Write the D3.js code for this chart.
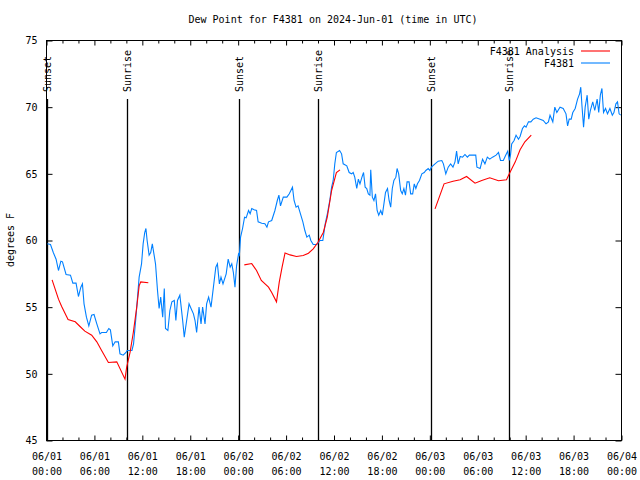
<!DOCTYPE html>
<html>
<head>
<meta charset="utf-8">
<script src="https://cdn.jsdelivr.net/npm/d3@7"></script>
<style>
  html, body { margin: 0; padding: 0; background: #fff; }
  svg text { font-family: "DejaVu Sans Mono", monospace; font-size: 10px; fill: #000; }
</style>
</head>
<body>
<svg id="chart" width="640" height="480"></svg>
<script>
// ---- data (hours since 06/01 00:00 UTC) ----
const titleText = "Dew Point for F4381 on 2024-Jun-01 (time in UTC)";
const yLabel = "degrees F";
const yTicks = [45, 50, 55, 60, 65, 70, 75];
const xMajorHours = [0, 6, 12, 18, 24, 30, 36, 42, 48, 54, 60, 66, 72];
const xTickDays = ["06/01","06/01","06/01","06/01","06/02","06/02","06/02","06/02","06/03","06/03","06/03","06/03","06/04"];
const xTickTimes = ["00:00","06:00","12:00","18:00","00:00","06:00","12:00","18:00","00:00","06:00","12:00","18:00","00:00"];
const xMinorHours = [2,4,8,10,14,16,20,22,26,28,32,34,38,40,44,46,50,52,56,58,62,64,68,70];

const sunEventHours = [0.1, 10.04, 24.15, 33.95, 48.2, 57.95];
const sunEventLabels = ["Sunset", "Sunrise", "Sunset", "Sunrise", "Sunset", "Sunrise"];

const seriesNames = ["F4381 Analysis", "F4381"];

const analysisHours = [0.7,1.5,1.9,2.7,3.6,4.2,4.8,5.66,6.3,6.9,7.75,8.8,9.83,10.04,10.46,10.87,11.3,11.6,11.8,12.75,
  null,
  24.77,25.7,26.3,26.9,27.8,28.2,28.8,29.15,29.5,29.87,30.5,31.3,32.15,32.8,33.4,34.0,34.66,35.16,35.7,36.3,36.75,
  null,
  48.65,49.78,50.9,51.8,52.6,53.66,54.5,55.5,56.6,57.6,57.95,58.7,59.3,59.9,60.7];
const analysisDew = [57.05,55.6,55.05,54.07,53.9,53.55,53.2,52.9,52.4,51.75,50.85,50.9,49.6,50.5,51.6,53.1,55.0,56.6,56.9,56.83,
  null,
  58.17,58.27,57.75,57.0,56.5,56.1,55.4,56.9,58.0,59.07,58.92,58.8,58.87,59.05,59.37,59.87,60.6,61.75,63.75,65.1,65.3,
  null,
  62.37,64.25,64.45,64.55,64.8,64.3,64.5,64.7,64.48,64.55,65.0,65.9,66.8,67.4,67.9];

const obsHours = [0.1,0.5,0.85,1.2,1.5,1.8,2.0,2.45,3.0,3.3,3.7,4.0,4.3,4.5,4.7,5.0,5.3,5.65,5.95,6.3,6.7,6.9,7.5,7.8,8.0,8.3,8.6,9.0,9.2,9.6,9.95,
  10.1,10.7,10.9,11.2,11.4,11.6,11.9,12.1,12.3,12.45,12.6,12.85,13.05,13.25,13.45,13.65,13.9,14.1,14.3,14.55,14.75,14.9,15.2,15.45,15.7,16.0,16.2,16.4,16.7,
  17.05,17.25,17.55,17.85,18.1,18.4,18.6,18.8,19.1,19.35,19.55,19.85,20.05,20.3,20.6,20.9,21.2,21.4,21.65,21.85,22.1,22.5,22.75,23.0,23.2,23.4,23.6,23.8,24.05,
  24.15,24.3,24.55,24.8,25.0,25.3,25.5,25.7,26.0,26.3,26.5,26.95,27.35,27.6,27.8,28.2,28.6,28.9,29.1,29.3,29.65,30.1,30.4,30.6,30.8,31.0,31.25,31.5,31.8,
  32.1,32.35,32.6,32.9,33.1,33.4,33.85,34.25,34.6,34.9,35.2,35.5,35.7,35.9,36.1,36.3,36.7,36.95,37.15,37.6,37.9,38.2,38.4,38.6,38.85,39.05,39.25,39.5,39.7,
  39.9,40.1,40.3,40.5,40.6,40.8,41.0,41.2,41.4,41.6,41.85,42.05,42.25,42.45,42.7,42.9,43.1,43.3,43.5,43.75,43.9,44.1,44.35,44.55,44.75,44.95,45.15,45.4,45.6,
  45.85,46.05,46.25,46.45,46.7,47.0,47.3,47.5,47.8,48.0,48.2,48.65,49.05,49.5,49.7,50.0,50.3,50.6,50.9,51.15,51.35,51.55,51.8,52.1,52.4,52.7,52.95,53.45,53.75,
  53.9,54.3,54.6,54.9,55.2,55.5,55.85,56.3,56.6,56.85,57.2,57.5,57.75,57.95,58.1,58.25,58.55,58.8,59.1,59.3,59.6,59.85,60.05,60.35,60.65,60.95,61.3,61.8,62.2,
  62.55,62.85,63.05,63.4,63.65,63.9,64.3,64.7,65.05,65.25,65.45,65.7,65.9,66.2,66.5,66.75,66.9,67.05,67.25,67.45,67.7,67.9,68.1,68.4,68.65,68.95,69.15,69.35,
  69.55,69.75,70.0,70.25,70.55,70.85,71.05,71.3,71.5,71.7,71.9];
const obsDew = [59.75,59.7,59.1,58.6,57.75,58.45,58.4,57.45,57.4,56.8,56.8,55.8,56.5,56.75,55.25,54.25,53.6,54.4,54.45,53.75,53.0,53.1,53.1,53.4,53.3,52.1,52.4,52.4,51.5,51.4,51.6,
  51.75,51.75,52.25,54.25,55.75,57.25,58.25,59.75,60.6,60.9,60.0,58.9,59.1,59.75,59.0,58.25,56.25,54.9,55.75,54.25,56.4,53.4,53.25,54.75,55.4,55.5,54.0,55.5,55.9,
  54.0,52.75,54.0,55.25,54.9,54.5,54.0,53.1,55.0,53.75,55.0,53.75,55.25,55.75,55.0,56.5,58.0,58.25,56.75,57.25,56.75,57.5,58.6,58.0,58.25,57.6,56.5,58.1,59.0,
  58.9,60.25,60.9,61.75,61.7,62.25,62.0,62.4,62.3,62.25,61.4,61.3,61.25,61.0,61.4,61.5,62.25,63.0,63.4,62.6,63.25,63.25,63.5,63.75,64.0,63.0,62.5,62.6,62.0,
  61.4,60.75,60.25,60.4,60.0,59.7,59.7,60.0,60.0,61.25,62.1,63.1,64.0,64.5,65.75,66.6,66.75,66.5,65.75,65.6,65.1,65.0,65.1,64.75,63.9,64.6,64.25,64.75,65.1,
  64.0,63.9,63.5,63.4,65.3,63.25,63.0,63.5,62.25,61.9,62.25,61.9,62.75,63.6,63.9,63.0,62.5,63.9,64.5,64.75,65.4,65.0,63.75,63.5,63.9,63.4,64.4,64.4,63.5,
  63.5,64.25,63.9,64.25,64.5,65.0,65.1,65.25,65.4,65.25,65.5,65.75,65.95,66.0,65.75,65.0,65.5,65.75,65.5,65.9,66.7,65.75,66.3,66.25,66.45,66.25,66.4,66.4,66.4,
  65.5,65.4,66.1,65.75,66.25,66.1,66.25,66.4,66.6,66.0,66.0,66.4,66.7,66.0,66.4,67.25,67.5,67.9,67.6,67.8,68.4,68.6,68.5,68.9,68.9,69.1,69.2,69.1,69.0,
  68.75,68.9,69.4,68.9,70.0,69.6,70.0,69.9,69.5,68.6,69.1,69.1,69.6,69.9,70.6,71.0,71.5,70.1,68.5,70.0,70.9,69.1,69.75,70.4,69.75,70.6,69.6,70.9,
  71.4,69.6,69.9,69.5,69.9,69.4,69.6,70.25,70.4,69.5,69.4];

// ---- layout ----
const svg = d3.select("#chart");
const L = 46.5, R = 621.5, T = 40.5, B = 440.5;
const x = d3.scaleLinear().domain([0, 72]).range([L, R]);
const y = d3.scaleLinear().domain([45, 75]).range([B, T]);

// title
svg.append("text").attr("x", 333).attr("y", 23).attr("text-anchor", "middle").text(titleText);

// y label
svg.append("text").attr("transform", "translate(14,240) rotate(-90)")
  .attr("text-anchor", "middle").text(yLabel);

// axes
const axisG = svg.append("g");
function styleAxis(g) {
  g.select(".domain").remove();
  g.selectAll("line").attr("stroke", "#000").attr("stroke-width", 1);
  g.selectAll("text").style("font-family", "DejaVu Sans Mono, monospace").style("font-size", "10px").attr("fill", "#000");
}
// left
axisG.append("g").attr("transform", `translate(${L},0)`)
  .call(d3.axisLeft(y).tickValues(yTicks).tickSize(-6).tickPadding(9).tickFormat(d3.format("d")))
  .call(styleAxis);
// right
axisG.append("g").attr("transform", `translate(${R},0)`)
  .call(d3.axisRight(y).tickValues(yTicks).tickSize(-6).tickFormat(""))
  .call(styleAxis);
// bottom major
const bottom = axisG.append("g").attr("transform", `translate(0,${B})`)
  .call(d3.axisBottom(x).tickValues(xMajorHours).tickSize(-5).tickPadding(0).tickFormat(""))
  .call(styleAxis);
bottom.selectAll(".tick").each(function(d, i) {
  const t = d3.select(this).append("text").attr("text-anchor", "middle")
    .style("font-family", "DejaVu Sans Mono, monospace").style("font-size", "10px");
  t.append("tspan").attr("x", 0).attr("y", 19).text(xTickDays[i]);
  t.append("tspan").attr("x", 0).attr("y", 34).text(xTickTimes[i]);
});
axisG.append("g").attr("transform", `translate(0,${B})`)
  .call(d3.axisBottom(x).tickValues(xMinorHours).tickSize(-3).tickFormat(""))
  .call(styleAxis);
// top
axisG.append("g").attr("transform", `translate(0,${T})`)
  .call(d3.axisTop(x).tickValues(xMajorHours).tickSize(-5).tickFormat(""))
  .call(styleAxis);
axisG.append("g").attr("transform", `translate(0,${T})`)
  .call(d3.axisTop(x).tickValues(xMinorHours).tickSize(-3).tickFormat(""))
  .call(styleAxis);

// frame
svg.append("rect").attr("x", L).attr("y", T).attr("width", R - L).attr("height", B - T)
  .attr("fill", "none").attr("stroke", "#000").attr("stroke-width", 1);

// sunrise / sunset markers
const sun = svg.append("g");
sunEventHours.forEach((h, i) => {
  const xx = Math.round(x(h)) + 0.5;
  sun.append("line").attr("x1", xx).attr("x2", xx).attr("y1", 99).attr("y2", B)
    .attr("stroke", "#000").attr("stroke-width", 1.3);
  sun.append("text").attr("transform", `translate(${xx + 3.5},92) rotate(-90)`)
    .attr("text-anchor", "start").text(sunEventLabels[i]);
});

// lines
const analysisData = analysisHours.map((h, i) => ({ h, v: analysisDew[i] }));
const obsData = obsHours.map((h, i) => ({ h, v: obsDew[i] }));
const line = d3.line().defined(d => d.h !== null && d.v !== null).x(d => x(d.h)).y(d => y(d.v));

svg.append("path").datum(obsData).attr("d", line)
  .attr("fill", "none").attr("stroke", "#0080ff").attr("stroke-width", 1.1);
svg.append("path").datum(analysisData).attr("d", line)
  .attr("fill", "none").attr("stroke", "#ff0000").attr("stroke-width", 1.1);

// legend
const legendColors = ["#ff0000", "#0080ff"];
const leg = svg.append("g");
seriesNames.forEach((n, i) => {
  const yy = 51 + i * 12;
  leg.append("text").attr("x", 574).attr("y", yy + 3.5).attr("text-anchor", "end").text(n);
  leg.append("line").attr("x1", 581).attr("x2", 610).attr("y1", yy).attr("y2", yy)
    .attr("stroke", legendColors[i]).attr("stroke-width", 1.1);
});
</script>
</body>
</html>
